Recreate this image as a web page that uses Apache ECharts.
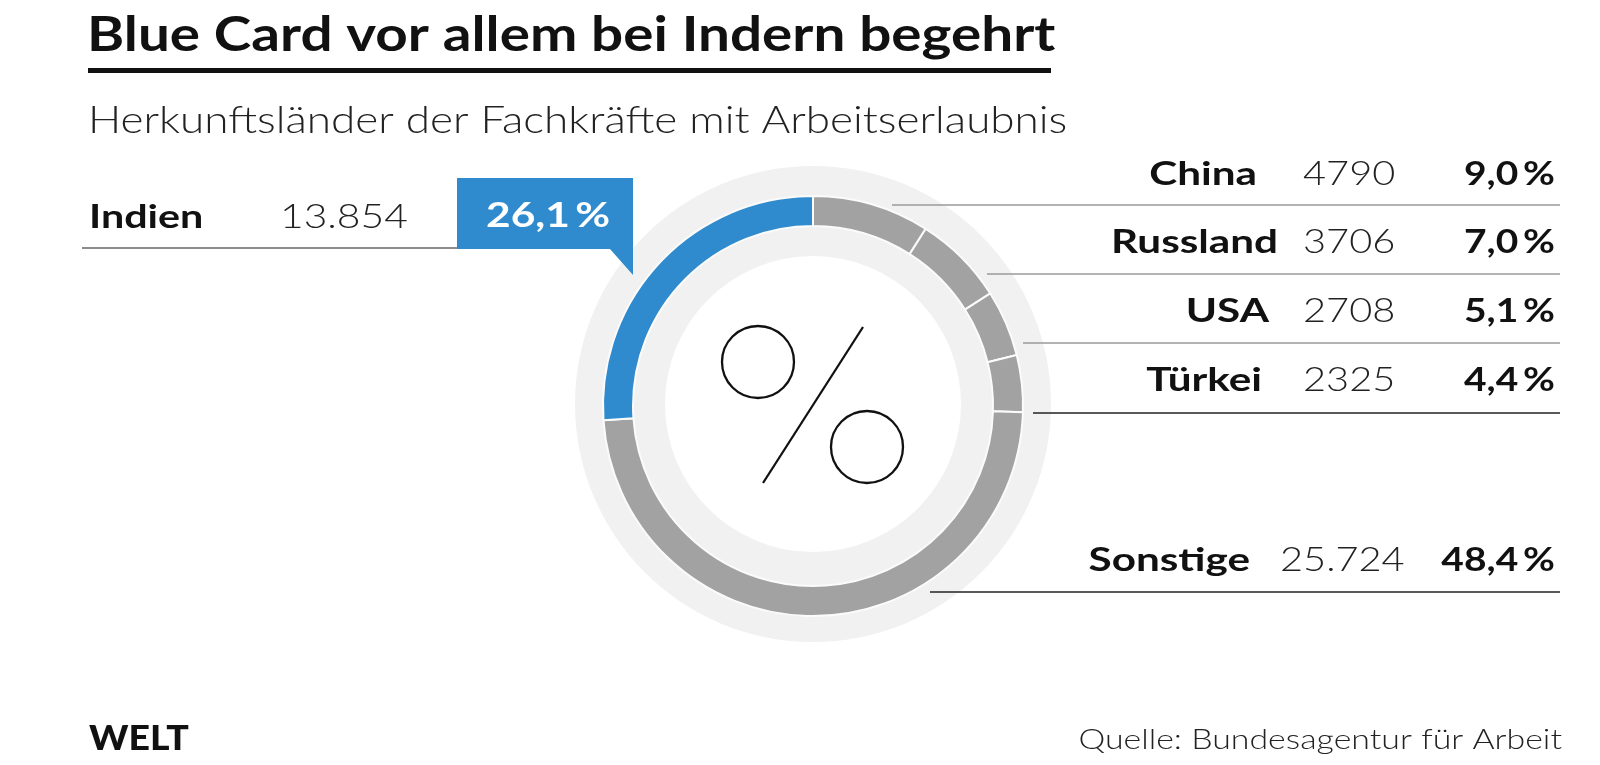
<!DOCTYPE html>
<html>
<head>
<meta charset="utf-8">
<script src="https://cdn.jsdelivr.net/npm/echarts@6/dist/echarts.min.js"></script>
<style>
  html, body { margin: 0; padding: 0; background: #fff; }
  #chart { width: 1600px; height: 765px; }
</style>
</head>
<body>
<div id="chart"></div>
<script>
// ---- data ----
const titleText = 'Blue Card vor allem bei Indern begehrt';
const subtitleText = 'Herkunftsländer der Fachkräfte mit Arbeitserlaubnis';
const sourceText = 'Quelle: Bundesagentur für Arbeit';
const logoText = 'WELT';
// clockwise from 12 o'clock
const countries = ['China', 'Russland', 'USA', 'Türkei', 'Sonstige', 'Indien'];
const counts = [4790, 3706, 2708, 2325, 25724, 13854];
const highlight = 'Indien';

// ---- layout / style ----
const FONT = 'Lato, "Noto Sans", "DejaVu Sans", sans-serif';
const BLUE = '#2f8bcd';
const GREY = '#a2a2a2';
const RING = '#f1f1f1';
const CX = 813, CY = 406;
// right-hand table rows (China..Sonstige)
const rowTextY = [174, 242, 311, 380, 560];
const rowLineY = [205, 274, 343, 413, 592];
const rowLineX0 = [892, 987, 1023, 1033, 930];
const rowLineColor = ['#9a9a9a', '#9a9a9a', '#9a9a9a', '#222', '#222'];
const labelRight = [1257, 1278, 1269, 1262, 1250];
const valueLeft = [1303, 1303, 1303, 1303, 1280];
const pctRight = 1555;
const tableRight = 1560;

const total = counts.reduce((a, b) => a + b, 0);
function fmtCount(n) {
  const s = String(n);
  return n >= 10000 ? s.replace(/\B(?=(\d{3})+(?!\d))/g, '.') : s;
}
function fmtPct(n) {
  return (n / total * 100).toFixed(1).replace('.', ',') + '\u2009%';
}

const chart = echarts.init(document.getElementById('chart'), null, { renderer: 'canvas' });

// text anchored at (x, y), horizontally stretched by sx around the anchor
function txt(text, x, y, weight, size, align, color, sx) {
  return {
    type: 'text', silent: true, z: 10,
    x: x, y: y, scaleX: sx || 1, scaleY: 1,
    style: {
      text: text, x: 0, y: 0,
      font: weight + ' ' + size + 'px ' + FONT,
      fill: color || '#111',
      align: align, textAlign: align,
      verticalAlign: 'middle', textVerticalAlign: 'middle'
    }
  };
}
function line(x1, y1, x2, y2, color, w) {
  return { type: 'line', silent: true, z: 5, shape: { x1, y1, x2, y2 }, style: { stroke: color, lineWidth: w } };
}

const graphics = [];
// title block
graphics.push(txt(titleText, 87, 36, 700, 48, 'left', '#111', 1.18));
graphics.push({ type: 'rect', silent: true, shape: { x: 88, y: 68, width: 963, height: 5 }, style: { fill: '#111' } });
graphics.push(txt(subtitleText, 88, 121, 300, 37, 'left', '#222', 1.19));

// right table
for (let i = 0; i < 5; i++) {
  graphics.push(txt(countries[i], labelRight[i], rowTextY[i], 700, 33, 'right', '#111', 1.28));
  graphics.push(txt(fmtCount(counts[i]), valueLeft[i], rowTextY[i], 300, 34, 'left', '#222', 1.17));
  graphics.push(txt(fmtPct(counts[i]), pctRight, rowTextY[i], 700, 33, 'right', '#111', 1.18));
  graphics.push(line(rowLineX0[i], rowLineY[i], tableRight, rowLineY[i], rowLineColor[i], 1.6));
}

// Indien row + callout
const hi = countries.indexOf(highlight);
graphics.push(txt(countries[hi], 89, 217, 700, 33, 'left', '#111', 1.25));
graphics.push(txt(fmtCount(counts[hi]), 280, 217, 300, 34, 'left', '#222', 1.2));
graphics.push(line(82, 248, 458, 248, '#666', 1.6));
graphics.push({
  type: 'polygon', silent: true, z: 6,
  shape: { points: [[457, 178], [633, 178], [633, 275], [610, 249], [457, 249]] },
  style: { fill: BLUE }
});
graphics.push(txt(fmtPct(counts[hi]), 548, 216, 700, 34, 'center', '#fff', 1.25));

// percent symbol in the middle
graphics.push({ type: 'circle', silent: true, z: 6, shape: { cx: CX - 55, cy: CY - 44, r: 36 }, style: { fill: 'none', stroke: '#111', lineWidth: 2.3 } });
graphics.push({ type: 'circle', silent: true, z: 6, shape: { cx: CX + 54, cy: CY + 41, r: 36 }, style: { fill: 'none', stroke: '#111', lineWidth: 2.3 } });
graphics.push(line(CX + 50, CY - 79, CX - 50, CY + 77, '#111', 2.3));

// footer
graphics.push(txt(logoText, 89, 739, 900, 34, 'left', '#111', 1.1));
graphics.push(txt(sourceText, 1562, 740, 300, 28, 'right', '#222', 1.21));

const option = {
  animation: false,
  backgroundColor: '#fff',
  series: [
    {
      type: 'pie', silent: true, z: 1,
      center: [CX, 404], radius: [148, 238],
      label: { show: false }, labelLine: { show: false },
      data: [{ value: 1, name: 'ring', itemStyle: { color: RING } }]
    },
    {
      type: 'pie', silent: true, z: 2,
      center: [CX, CY], radius: [180, 210],
      startAngle: 90, clockwise: true,
      label: { show: false }, labelLine: { show: false },
      itemStyle: { borderColor: '#fbfbfb', borderWidth: 2 },
      data: countries.map((c, i) => ({
        name: c, value: counts[i],
        itemStyle: { color: c === highlight ? BLUE : GREY }
      }))
    }
  ],
  graphic: { elements: graphics }
};
chart.setOption(option);
</script>
</body>
</html>
